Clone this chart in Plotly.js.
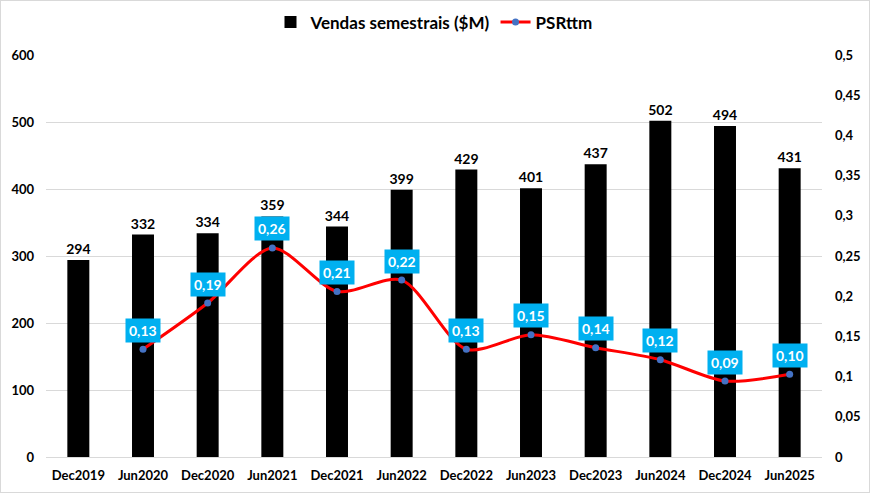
<!DOCTYPE html>
<html><head><meta charset="utf-8">
<script src="https://cdn.plot.ly/plotly-3.0.1.min.js"></script>
<style>html,body{margin:0;padding:0;background:#fff}#c{width:870px;height:493px;box-sizing:border-box;border:1px solid #d9d9d9}</style>
</head><body><div id="c"></div>
<script>
const categories = ["Dec2019","Jun2020","Dec2020","Jun2021","Dec2021","Jun2022","Dec2022","Jun2023","Dec2023","Jun2024","Dec2024","Jun2025"];
const vendas = [294,332,334,359,344,399,429,401,437,502,494,431];
const psr = [null,0.134,0.1915,0.26,0.206,0.22,0.134,0.152,0.136,0.121,0.0945,0.103];

const F = "Lato, 'Open Sans', sans-serif";
const bars = {
  type:'bar', name:'Vendas semestrais ($M)', x:categories, y:vendas,
  marker:{color:'#000000'}, width:0.34,
  text:vendas.map(String), textposition:'outside', cliponaxis:false, constraintext:'none',
  textfont:{family:F, size:14, color:'#000', weight:'bold'}
};
const line = {
  type:'scatter', mode:'lines+markers', name:'PSRttm', x:categories, y:psr, yaxis:'y2',
  line:{color:'#FF0000', width:3, shape:'spline', smoothing:0.8},
  marker:{color:'#4472C4', size:7}, connectgaps:false
};
const annotations = categories.map((c,i)=> psr[i]==null?null:({
  x:c, y:psr[i], xref:'x', yref:'y2', showarrow:false, yshift:19,
  text:psr[i].toFixed(2).replace('.',','), bgcolor:'#00B0F0', borderpad:3,
  font:{family:F, size:14, color:'#fff', weight:'bold'}
})).filter(a=>a);

const layout = {
  width:870, height:493, margin:{l:45, r:49, t:54, b:37, autoexpand:false},
  paper_bgcolor:'rgba(0,0,0,0)', plot_bgcolor:'#fff',
  separators:',.',
  font:{family:F, size:13, color:'#000', weight:'bold'},
  showlegend:true,
  legend:{orientation:'h', x:0.5, xanchor:'center', y:0.92, yanchor:'bottom', yref:'container',
    font:{family:F, size:17, color:'#000', weight:'bold'}, traceorder:'normal'},
  xaxis:{type:'category', range:[-0.5,11.5], autorange:false, automargin:false,
    tickfont:{family:F, size:13, weight:'bold'}, showgrid:false, zeroline:false,
    showline:true, linecolor:'#d9d9d9', ticks:'', ticklabelstandoff:6},
  yaxis:{range:[0,600], dtick:100, gridcolor:'#d9d9d9', zeroline:false, showline:false, automargin:false,
    tickfont:{family:F, size:13, weight:'bold'}, ticks:'', ticklabelstandoff:11},
  yaxis2:{range:[0,0.5], dtick:0.05, overlaying:'y', side:'right', showgrid:false, zeroline:false, automargin:false,
    tickfont:{family:F, size:13, weight:'bold'}, ticks:'', ticklabelstandoff:12},
  annotations:annotations
};
Plotly.newPlot('c',[bars,line],layout,{displayModeBar:false});
</script></body></html>
